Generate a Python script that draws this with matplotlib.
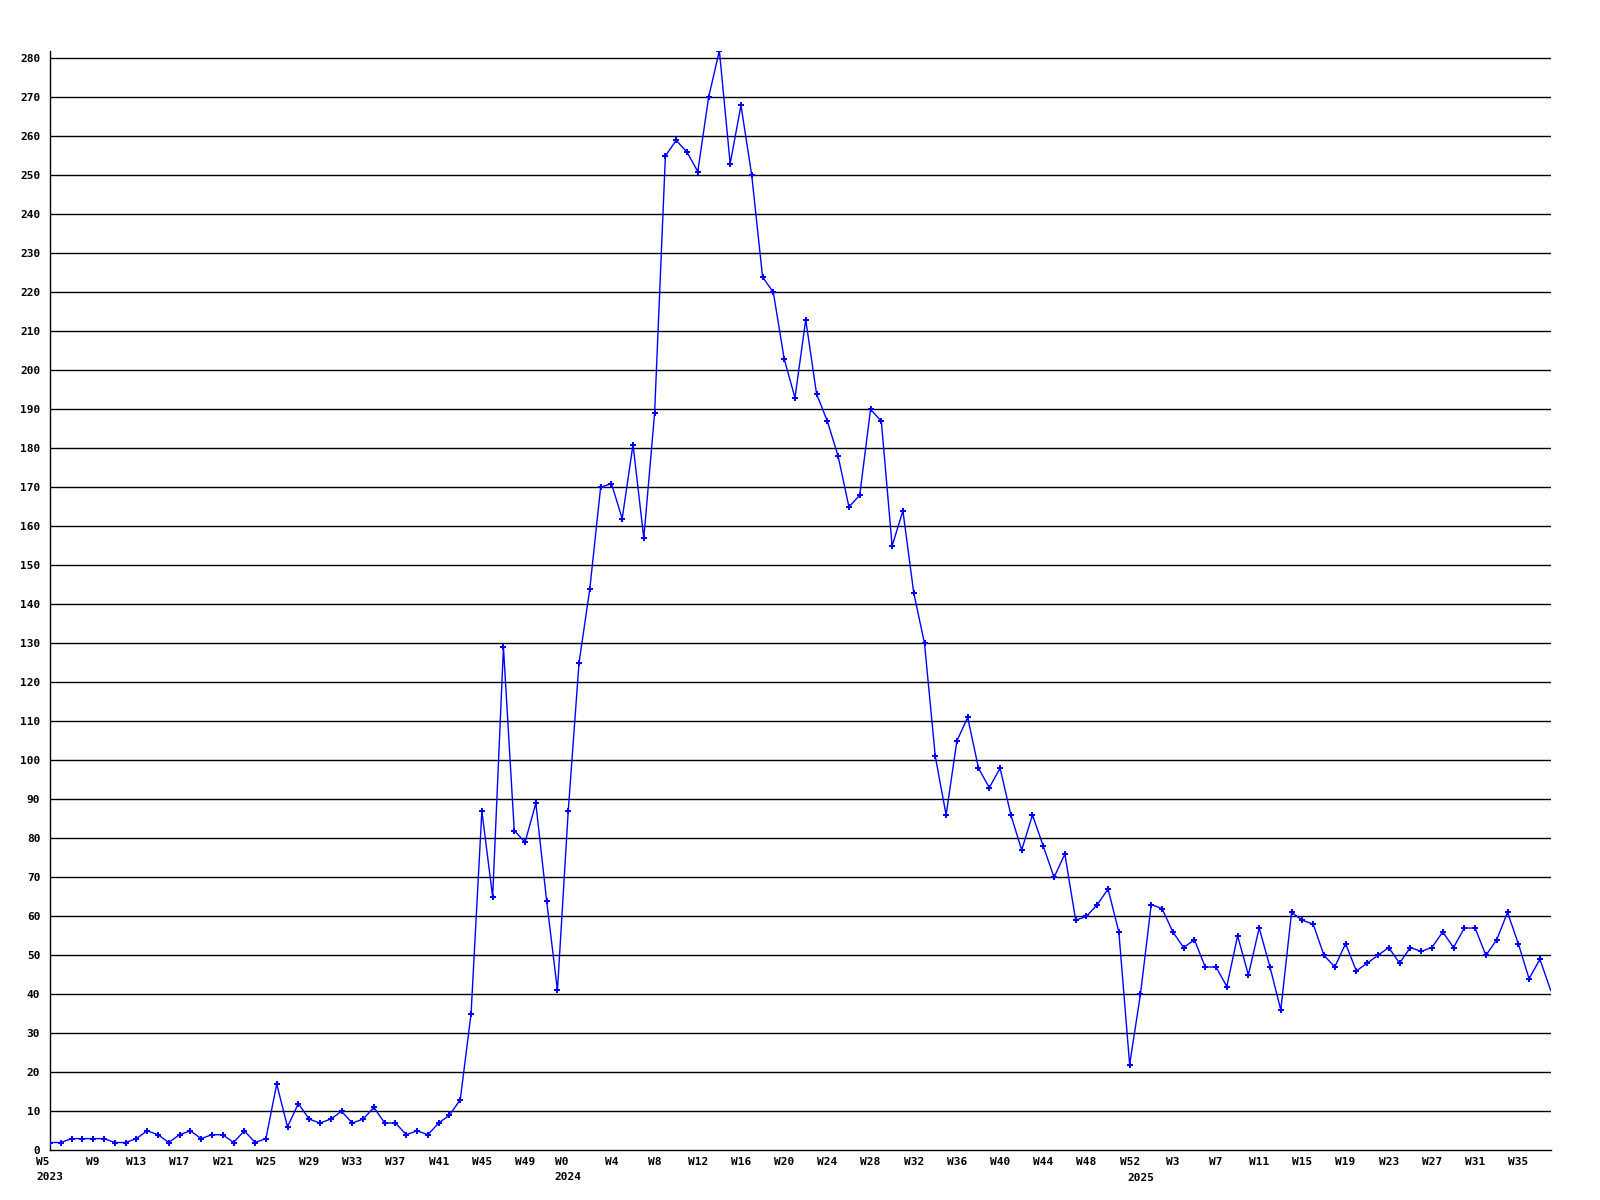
import matplotlib
matplotlib.use("Agg")
import matplotlib.pyplot as plt
import numpy as np

# Weekly counts
years = [2023, 2024, 2025]
first_week = [5, 0, 0]
values_2023 = [2, 2, 3, 3, 3, 3, 2, 2, 3, 5, 4, 2, 4, 5, 3, 4, 4, 2, 5, 2,
               3, 17, 6, 12, 8, 7, 8, 10, 7, 8, 11, 7, 7, 4, 5, 4, 7, 9, 13, 35,
               87, 65, 129, 82, 79, 89, 64, 41]
values_2024 = [87, 125, 144, 170, 171, 162, 181, 157, 189, 255, 259, 256, 251,
               270, 282, 253, 268, 250, 224, 220, 203, 193, 213, 194, 187, 178,
               165, 168, 190, 187, 155, 164, 143, 130, 101, 86, 105, 111, 98,
               93, 98, 86, 77, 86, 78, 70, 76, 59, 60, 63, 67, 56, 22]
values_2025 = [40, 63, 62, 56, 52, 54, 47, 47, 42, 55, 45, 57, 47, 36, 61, 59,
               58, 50, 47, 53, 46, 48, 50, 52, 48, 52, 51, 52, 56, 52, 57, 57,
               50, 54, 61, 53, 44, 49, 41]
yearly_values = [values_2023, values_2024, values_2025]

# Build the combined series
values = []
week_nums = []
year_start_idx = {}
for yr, fw, vals in zip(years, first_week, yearly_values):
    year_start_idx[len(values)] = yr
    for k, v in enumerate(vals):
        values.append(v)
        week_nums.append(fw + k)
x = np.arange(len(values))

plt.rcParams['font.family'] = ['DejaVu Sans Mono', 'DejaVu Sans']

fig = plt.figure(figsize=(16, 12), dpi=100)
ax = fig.add_axes([50 / 1600, 1 - 1150.3 / 1200, (1550.7 - 50) / 1600, (1150.3 - 50.7) / 1200])

ax.plot(x, values, color='#0000ff', linewidth=1.0, zorder=3,
        marker='P', markersize=5, markevery=list(range(len(values) - 1)),
        markeredgewidth=0)

ax.set_xlim(0, len(values) - 1)
ax.set_ylim(0, max(values))

yt = np.arange(0, 281, 10)
ax.set_yticks(yt)
ax.set_yticklabels([str(v) for v in yt])
for v in yt[1:]:
    ax.axhline(v, color='black', linewidth=1.0, zorder=1)

# Major ticks: week labels every 4 weeks (year added on a second line
# when the week is also the first week of a year)
ticks = []
labels = []
minor_ticks = []
minor_labels = []
for i in range(len(values)):
    show_w = (i % 4 == 0)
    show_y = i in year_start_idx
    if show_w:
        ticks.append(i)
        lab = f"W{week_nums[i]}"
        if show_y:
            lab += f"\n{year_start_idx[i]}"
        labels.append(lab)
    elif show_y:
        minor_ticks.append(i)
        minor_labels.append(str(year_start_idx[i]))

ax.set_xticks(ticks)
ax.set_xticklabels(labels)
ax.set_xticks(minor_ticks, minor=True)
ax.set_xticklabels(minor_labels, minor=True)
for t in ax.get_xticklabels():
    t.set_multialignment('left')
    t.set_linespacing(1.55)

ax.tick_params(axis='both', which='both', length=0, labelsize=8)
ax.tick_params(axis='y', pad=7)
ax.tick_params(axis='x', which='major', pad=5)
ax.tick_params(axis='x', which='minor', pad=16)
for t in (ax.get_xticklabels() + ax.get_yticklabels()
          + ax.get_xticklabels(minor=True)):
    t.set_fontweight('bold')

for s in ['top', 'right']:
    ax.spines[s].set_visible(False)
for s in ['left', 'bottom']:
    ax.spines[s].set_linewidth(1.0)
    ax.spines[s].set_color('black')

fig.savefig('out.png', dpi=100, facecolor='white')
